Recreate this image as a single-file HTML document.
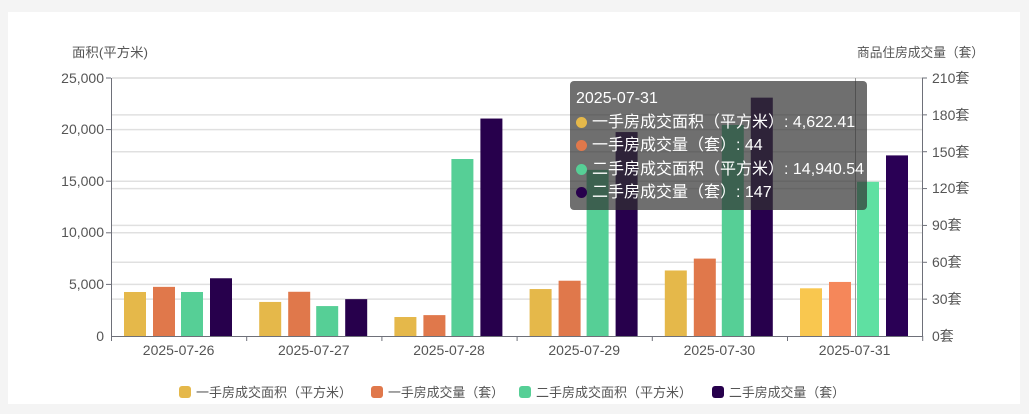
<!DOCTYPE html>
<html><head><meta charset="utf-8"><style>
html,body{margin:0;padding:0;background:#f4f4f4;}
body{width:1029px;height:414px;overflow:hidden;position:relative;font-family:"Liberation Sans","Noto Sans CJK SC",sans-serif;}
.card{position:absolute;left:8px;top:12px;width:1012px;height:392px;background:#fff;}
svg{position:absolute;left:0;top:0;}
.tip{position:absolute;left:570px;top:81px;width:297px;height:129px;background:rgba(50,50,50,0.7);border-radius:4px;color:#fff;font-size:16px;line-height:23.5px;padding:6px 0 0 6px;box-sizing:border-box;font-family:"Liberation Sans","Noto Sans CJK SC",sans-serif;}
.tip .d{display:inline-block;width:11px;height:11px;border-radius:50%;margin-right:5px;vertical-align:-1px;}
</style></head><body>
<div class="card"></div>
<svg width="1029" height="414" id="s" font-family="Liberation Sans, Noto Sans CJK SC, sans-serif">
<g stroke="#e0e0e0" stroke-width="1.5" id="grid"></g>
<g id="bars"></g>
<line x1="855.5" y1="78" x2="855.5" y2="336" stroke="#999" stroke-width="1"/>
<line x1="111.5" y1="78" x2="111.5" y2="336" stroke="#6e7079"/>
<line x1="922.5" y1="78" x2="922.5" y2="336" stroke="#6e7079"/>
<line x1="111" y1="336.5" x2="923" y2="336.5" stroke="#6e7079"/>
<g id="ticks" stroke="#6e7079"></g>
<g font-size="13" fill="#555">
<text x="72" y="57" textLength="76" lengthAdjust="spacingAndGlyphs">面积(平方米)</text>
<text x="857" y="57" textLength="127" lengthAdjust="spacingAndGlyphs">商品住房成交量（套）</text>
<g text-anchor="end" font-size="14">
<text x="104" y="83">25,000</text><text x="104" y="134">20,000</text><text x="104" y="186">15,000</text>
<text x="104" y="237">10,000</text><text x="104" y="289">5,000</text><text x="104" y="341">0</text>
</g>
<g font-size="14">
<text x="932" y="83">210套</text><text x="932" y="120">180套</text><text x="932" y="157">150套</text>
<text x="932" y="193">120套</text><text x="932" y="230">90套</text><text x="932" y="267">60套</text>
<text x="932" y="304">30套</text><text x="932" y="341">0套</text>
</g>
<g text-anchor="middle" font-size="14">
<text x="178.6" y="355">2025-07-26</text><text x="313.8" y="355">2025-07-27</text><text x="449" y="355">2025-07-28</text>
<text x="584.2" y="355">2025-07-29</text><text x="719.4" y="355">2025-07-30</text><text x="854.6" y="355">2025-07-31</text>
</g>
<rect x="179" y="386" width="12" height="12" rx="3" fill="#e5b84a"/><text x="196" y="397" textLength="156" lengthAdjust="spacingAndGlyphs">一手房成交面积（平方米）</text>
<rect x="371" y="386" width="12" height="12" rx="3" fill="#e0784b"/><text x="388" y="397" textLength="116" lengthAdjust="spacingAndGlyphs">一手房成交量（套）</text>
<rect x="519" y="386" width="12" height="12" rx="3" fill="#56cf96"/><text x="536" y="397" textLength="156" lengthAdjust="spacingAndGlyphs">二手房成交面积（平方米）</text>
<rect x="712" y="386" width="12" height="12" rx="3" fill="#27004c"/><text x="729" y="397" textLength="116" lengthAdjust="spacingAndGlyphs">二手房成交量（套）</text>
</g>
</svg>
<div class="tip">2025-07-31<br>
<span class="d" style="background:#e5b84a"></span>一手房成交面积（平方米）: 4,622.41<br>
<span class="d" style="background:#e0784b"></span>一手房成交量（套）: 44<br>
<span class="d" style="background:#56cf96"></span>二手房成交面积（平方米）: 14,940.54<br>
<span class="d" style="background:#27004c"></span>二手房成交量（套）: 147</div>
<script>
var g=document.getElementById('grid'),b=document.getElementById('bars'),t=document.getElementById('ticks'),ns='http://www.w3.org/2000/svg';
function el(p,n,a){var e=document.createElementNS(ns,n);for(var k in a)e.setAttribute(k,a[k]);p.appendChild(e);}
for(var i=0;i<5;i++){var y=78+i*51.6;el(g,'line',{x1:112,x2:922,y1:y,y2:y});el(t,'line',{x1:106,x2:111,y1:y,y2:y});}
for(var i=0;i<7;i++){var y=78+i*258/7;el(g,'line',{x1:112,x2:922,y1:y,y2:y});el(t,'line',{x1:922,x2:927,y1:y,y2:y});}
for(var i=0;i<=6;i++){var x=111.5+i*135.2;el(t,'line',{x1:x,x2:x,y1:336,y2:341});}
var d=[[4264,40,4264,47],[3300,36,2900,30],[1840,17,17150,177],[4550,45,16100,166],[6350,63,20450,194],[4622.41,44,14940.54,147]];
var c=['#e5b84a','#e0784b','#56cf96','#27004c'],ch=['#f9c74f','#f5875a','#5fe0a2','#2a0055'],off=[13,42,70,99];
d.forEach(function(r,i){r.forEach(function(v,j){var h=(j%2==0)?v/25000*258:v/210*258;
el(b,'rect',{x:111+i*135.2+off[j],y:336-h,width:22,height:h,fill:i==5?ch[j]:c[j]});});});
</script>
</body></html>
